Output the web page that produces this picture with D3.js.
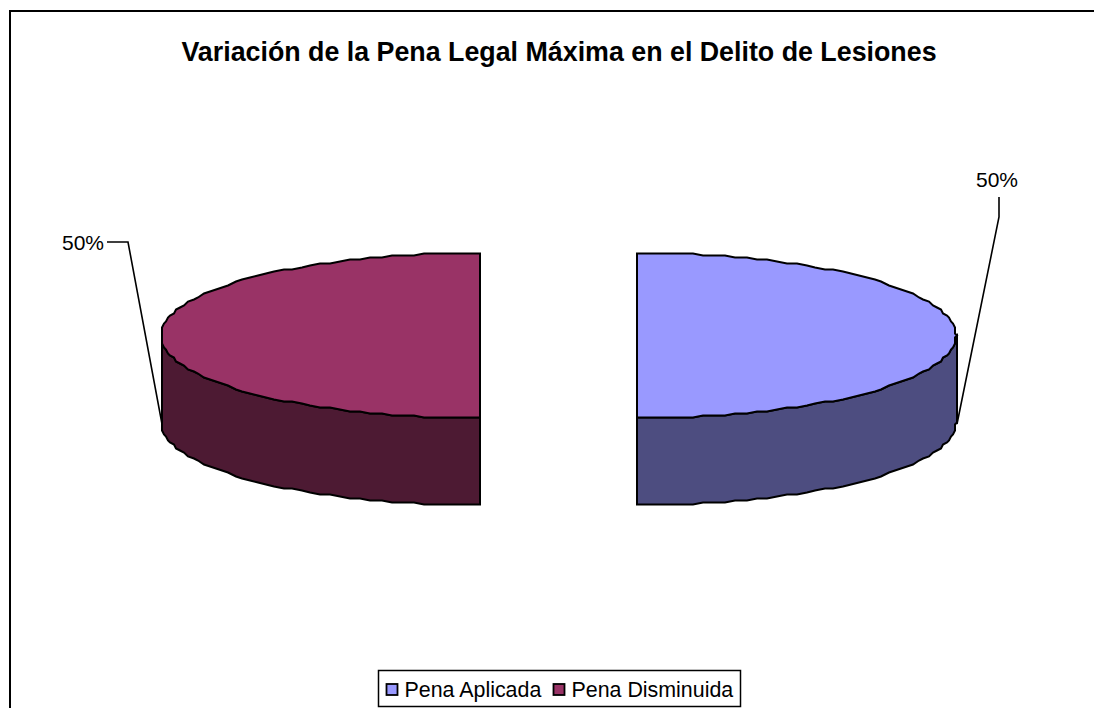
<!DOCTYPE html>
<html>
<head>
<meta charset="utf-8">
<script src="https://cdnjs.cloudflare.com/ajax/libs/d3/7.8.5/d3.min.js"></script>
<style>
	html, body { margin: 0; padding: 0; background: #fff; }
	svg { display: block; }
	text { font-family: "Liberation Sans", Arial, sans-serif; fill: #000; }
</style>
</head>
<body>
<svg width="1094" height="708"></svg>
<script>
/* 3d pie, two exploded halves */
var title = "Variación de la Pena Legal Máxima en el Delito de Lesiones";
var categories = ["Pena Aplicada", "Pena Disminuida"];
var values = [50, 50];
var top_colors = ["#9999ff", "#993366"];
var side_colors = ["#4d4d80", "#4d1a33"];

var svg = d3.select("svg");

var rx = 319, ry = 82.5, depth = 87;
var cy = 335.5;
var centers = [637, 480];
var label_lines = [
	[[957, 424], [999, 217], [999, 197]],
	[[162, 424], [128, 242], [107, 242]]
];
var label_pos = [[997, 187, "middle"], [104, 250, "end"]];

svg.append("rect")
	.attr("x", 10).attr("y", 11)
	.attr("width", 1200).attr("height", 800)
	.attr("fill", "#fff").attr("stroke", "#000").attr("stroke-width", 2);

svg.append("text")
	.attr("x", 559).attr("y", 61)
	.attr("text-anchor", "middle")
	.attr("font-size", 26.8)
	.attr("font-weight", "bold")
	.text(title);

var pie = d3.pie().sort(null);
var arcs = pie(values);

// project an angle of the pie on the tilted ellipse, rounded to a
// small grid so the rim has the same stepped look as the original
var grid = 2;
function snap(v) { return Math.round(v / grid) * grid; }
function px(c, a) { return c + snap(rx * Math.sin(a)); }
function py(a) { return cy - snap(ry * Math.cos(a)); }

function top_path(d, c) {
	var p = d3.path();
	p.moveTo(c, cy);
	var n = 90;
	for (var i = 0; i <= n; i++) {
		var a = d.startAngle + (d.endAngle - d.startAngle) * i / n;
		p.lineTo(px(c, a), py(a));
	}
	p.closePath();
	return p.toString();
}

// only the front part of the rim is seen: pi/2 .. 3pi/2
function side_path(d, c) {
	var a0 = Math.max(d.startAngle, Math.PI / 2);
	var a1 = Math.min(d.endAngle, Math.PI * 1.5);
	var n = 45, i, a;
	var p = d3.path();
	p.moveTo(px(c, a0), py(a0));
	for (i = 0; i <= n; i++) {
		a = a0 + (a1 - a0) * i / n;
		p.lineTo(px(c, a), py(a));
	}
	for (i = n; i >= 0; i--) {
		a = a0 + (a1 - a0) * i / n;
		p.lineTo(px(c, a), py(a) + depth);
	}
	p.closePath();
	return p.toString();
}

var slices = svg.selectAll("g.slice")
	.data(arcs)
	.enter().append("g")
	.attr("class", "slice");

slices.append("path")
	.attr("d", function(d, i) { return side_path(d, centers[i]); })
	.attr("fill", function(d, i) { return side_colors[i]; })
	.attr("stroke", "#000").attr("stroke-width", 2);

slices.append("path")
	.attr("d", function(d, i) { return top_path(d, centers[i]); })
	.attr("fill", function(d, i) { return top_colors[i]; })
	.attr("stroke", "#000").attr("stroke-width", 2);

var line = d3.line();
slices.append("path")
	.attr("d", function(d, i) { return line(label_lines[i]); })
	.attr("fill", "none").attr("stroke", "#000").attr("stroke-width", 1.6);

slices.append("text")
	.attr("x", function(d, i) { return label_pos[i][0]; })
	.attr("y", function(d, i) { return label_pos[i][1]; })
	.attr("text-anchor", function(d, i) { return label_pos[i][2]; })
	.attr("font-size", 21)
	.text(function(d) { return d.value + "%"; });

// legend
var legend = svg.append("g");
legend.append("rect")
	.attr("x", 378.5).attr("y", 670.5)
	.attr("width", 362).attr("height", 36)
	.attr("fill", "#fff").attr("stroke", "#000").attr("stroke-width", 1.5);

var legend_x = [386.5, 553.5];
categories.forEach(function(name, i) {
	legend.append("rect")
		.attr("x", legend_x[i]).attr("y", 684)
		.attr("width", 11).attr("height", 11)
		.attr("fill", top_colors[i]).attr("stroke", "#000").attr("stroke-width", 1.8);
	legend.append("text")
		.attr("x", legend_x[i] + 18).attr("y", 697)
		.attr("font-size", 21.4)
		.text(name);
});
</script>
</body>
</html>
